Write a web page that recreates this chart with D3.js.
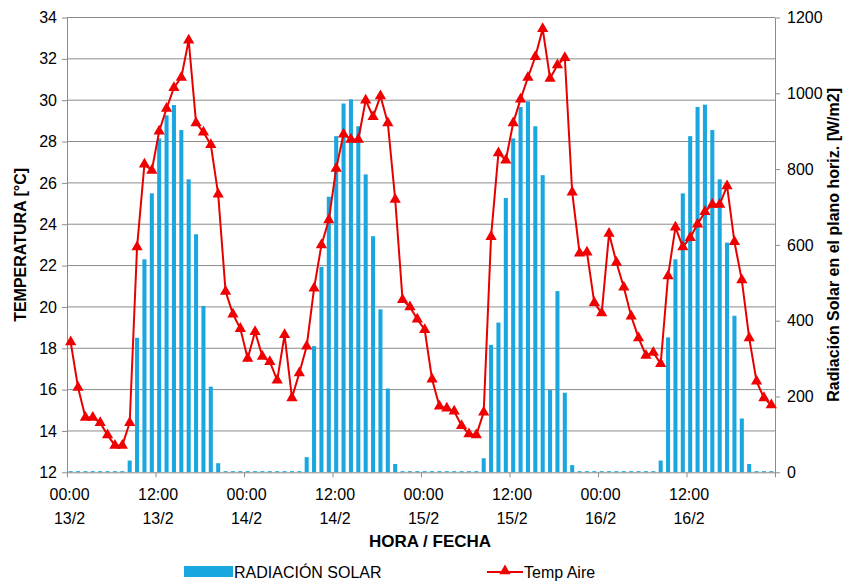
<!DOCTYPE html>
<html>
<head>
<meta charset="utf-8">
<script src="https://cdn.jsdelivr.net/npm/d3@7"></script>
<style>
  body { margin: 0; background: #fff; }
  svg { font-family: "Liberation Sans", Arial, sans-serif; }
</style>
</head>
<body>
<svg width="845" height="582"></svg>
<script>
// hourly categories 13/2 00:00 .. 16/2 23:00
var hours = d3.range(96);

// radiacion solar [W/m2], one bar per hour
var radiacion = [
  3, 3, 3, 3, 3, 3, 3, 3, 31, 355, 562, 736, 881, 942, 969, 903, 773, 628, 439, 226, 24, 3, 3, 3,
  3, 3, 3, 3, 3, 3, 3, 3, 40, 333, 542, 727, 887, 973, 984, 913, 786, 623, 430, 221, 22, 3, 3, 3,
  3, 3, 3, 3, 3, 3, 3, 3, 37, 336, 395, 724, 881, 964, 979, 913, 784, 217, 478, 210, 19, 3, 3, 3,
  3, 3, 3, 3, 3, 3, 3, 3, 31, 356, 562, 736, 887, 964, 970, 903, 773, 606, 413, 142, 22, 3, 3, 3
];

// temp aire [°C]
var tempAire = [
  18.3, 16.1, 14.65, 14.65, 14.4, 13.8, 13.3, 13.3, 14.4, 22.9, 26.9, 26.6, 28.5, 29.6, 30.6, 31.1, 32.9, 28.9, 28.45, 27.85, 25.45, 20.75, 19.65, 18.95,
  17.5, 18.8, 17.6, 17.35, 16.45, 18.65, 15.6, 16.8, 18.1, 20.9, 23.0, 24.2, 26.7, 28.35, 28.1, 28.1, 30.0, 29.2, 30.2, 28.9, 25.2, 20.35, 20.0, 19.4,
  18.9, 16.5, 15.2, 15.1, 14.95, 14.25, 13.85, 13.8, 14.9, 23.4, 27.45, 27.1, 28.9, 30.05, 31.1, 32.1, 33.45, 31.05, 31.7, 32.05, 25.55, 22.6, 22.65, 20.2,
  19.7, 23.55, 22.15, 20.95, 19.55, 18.5, 17.65, 17.8, 17.25, 21.5, 23.85, 22.9, 23.35, 24.0, 24.6, 24.95, 24.95, 25.85, 23.15, 21.3, 18.5, 16.4, 15.6, 15.25
];

var tickHours = [0, 12, 24, 36, 48, 60, 72, 84, 96];
var tickLabels = [
  ["00:00", "13/2"], ["12:00", "13/2"], ["00:00", "14/2"], ["12:00", "14/2"],
  ["00:00", "15/2"], ["12:00", "15/2"], ["00:00", "16/2"], ["12:00", "16/2"], ["", ""]
];

var plotLeft = 67, plotRight = 775, plotTop = 17.5, plotBottom = 472.3;
var svg = d3.select("svg");

var x = d3.scaleBand().domain(hours).range([plotLeft, plotRight]).paddingInner(0.45).paddingOuter(0.225);
var xHour = d3.scaleLinear().domain([0, 96]).range([plotLeft, plotRight]);
var yT = d3.scaleLinear().domain([12, 34]).range([plotBottom, plotTop]);
var yR = d3.scaleLinear().domain([0, 1200]).range([plotBottom, plotTop]);

// grid
svg.append("g")
  .selectAll("line")
  .data(d3.range(14, 35, 2))
  .enter()
  .append("line")
  .attr("x1", plotLeft).attr("x2", plotRight)
  .attr("y1", d => yT(d)).attr("y2", d => yT(d))
  .attr("stroke", "#8c8c8c")
  .attr("stroke-width", 1);

// bars
svg.append("g")
  .selectAll("rect")
  .data(radiacion)
  .enter()
  .append("rect")
  .attr("x", (d, i) => x(hours[i]))
  .attr("width", x.bandwidth())
  .attr("y", d => yR(d))
  .attr("height", d => plotBottom - yR(d))
  .style("fill", "#1aa7df");

// axes
function styleAxis(g) {
  g.select(".domain").attr("stroke", "#8c8c8c");
  g.selectAll(".tick line").attr("stroke", "#8c8c8c");
  g.selectAll("text").attr("font-size", 16).attr("fill", "#000")
    .attr("font-family", "Liberation Sans, Arial, sans-serif");
}

svg.append("g")
  .attr("transform", "translate(" + plotLeft + ",0)")
  .call(d3.axisLeft(yT).tickValues(d3.range(12, 35, 2)).tickSize(5).tickPadding(5).tickSizeOuter(0))
  .call(styleAxis);

svg.append("g")
  .attr("transform", "translate(" + plotRight + ",0)")
  .call(d3.axisRight(yR).tickValues(d3.range(0, 1201, 200)).tickFormat(d3.format("d"))
    .tickSize(5).tickPadding(7).tickSizeOuter(0))
  .call(styleAxis);

var xAxis = svg.append("g")
  .attr("transform", "translate(0," + plotBottom + ")")
  .call(d3.axisBottom(xHour).tickValues(tickHours).tickSize(5).tickSizeOuter(0).tickFormat(""))
  .call(styleAxis);

xAxis.selectAll(".tick")
  .append("text")
  .attr("text-anchor", "middle")
  .attr("font-size", 16)
  .attr("fill", "#000")
  .selectAll("tspan")
  .data((d, i) => tickLabels[i])
  .enter()
  .append("tspan")
  .attr("x", 2)
  .attr("y", (d, j) => 28 + j * 24)
  .text(d => d);

// temp line
var line = d3.line()
  .x((d, i) => x(hours[i]) + x.bandwidth() / 2)
  .y(d => yT(d));

svg.append("path")
  .datum(tempAire)
  .attr("d", line)
  .attr("fill", "none")
  .attr("stroke", "#e60000")
  .attr("stroke-width", 2);

svg.append("g")
  .selectAll("path")
  .data(tempAire)
  .enter()
  .append("path")
  .attr("d", d3.symbol().type(d3.symbolTriangle).size(55))
  .attr("transform", (d, i) => "translate(" + (x(hours[i]) + x.bandwidth() / 2) + "," + yT(d) + ")")
  .attr("fill", "#f00000");

// titles
svg.append("text")
  .attr("transform", "translate(26," + ((plotTop + plotBottom) / 2) + ") rotate(-90)")
  .attr("text-anchor", "middle")
  .attr("font-size", 16)
  .attr("font-weight", "bold")
  .text("TEMPERATURA [°C]");

svg.append("text")
  .attr("transform", "translate(839," + ((plotTop + plotBottom) / 2) + ") rotate(-90)")
  .attr("text-anchor", "middle")
  .attr("font-size", 16)
  .attr("font-weight", "bold")
  .text("Radiación Solar en el plano horiz. [W/m2]");

svg.append("text")
  .attr("x", 430)
  .attr("y", 547)
  .attr("text-anchor", "middle")
  .attr("font-size", 17)
  .attr("font-weight", "bold")
  .text("HORA / FECHA");

// legend
var legend = svg.append("g");
legend.append("rect")
  .attr("x", 184).attr("y", 566).attr("width", 49).attr("height", 11)
  .style("fill", "#1aa7df");
legend.append("text")
  .attr("x", 234).attr("y", 578)
  .attr("font-size", 16)
  .text("RADIACIÓN SOLAR");
legend.append("line")
  .attr("x1", 487).attr("x2", 523).attr("y1", 572).attr("y2", 572)
  .attr("stroke", "#e60000").attr("stroke-width", 2);
legend.append("path")
  .attr("d", d3.symbol().type(d3.symbolTriangle).size(55))
  .attr("transform", "translate(505,571)")
  .attr("fill", "#f00000");
legend.append("text")
  .attr("x", 524).attr("y", 578)
  .attr("font-size", 16)
  .text("Temp Aire");
</script>
</body>
</html>
